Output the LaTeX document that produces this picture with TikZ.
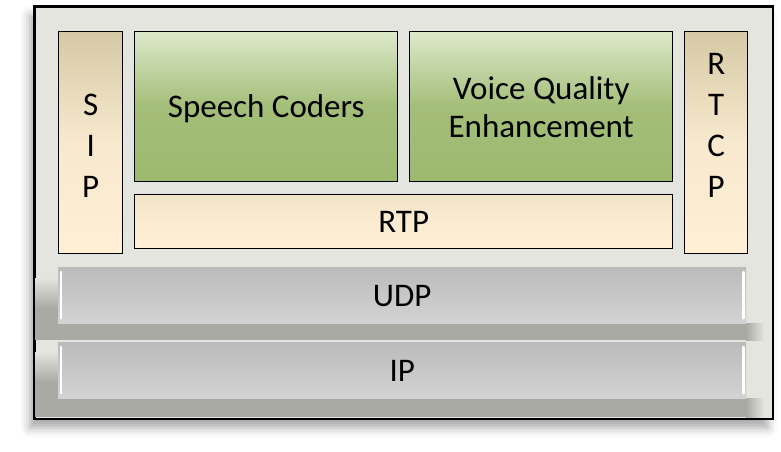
\documentclass[tikz,border=0pt]{standalone}
\usepackage{fontspec}
\setmainfont{Carlito}
\usetikzlibrary{shadows.blur}
\definecolor{outerfill}{HTML}{E5E5DF}
\definecolor{tantop}{HTML}{D5C9A5}
\definecolor{tanbot}{HTML}{FEEFD5}
\definecolor{greentop}{HTML}{DDE9CB}
\definecolor{greenbot}{HTML}{9DB96F}
\definecolor{graytop}{HTML}{BBBBBB}
\definecolor{graybot}{HTML}{D3D3D3}
\definecolor{shadowgray}{HTML}{AAAAA4}
\tikzset{
  bigfont/.style={font=\fontsize{33}{41}\selectfont},
  layer/.style={draw=black, line width=1.4pt, inner sep=0pt, anchor=north west,
    bigfont, align=center},
  tanbox/.style={layer, top color=tantop, bottom color=tanbot, middle color=tanbot!85!tantop},
  greenbox/.style={layer, top color=greentop, bottom color=greenbot, middle color=greenbot!90!greentop},
  graybar/.style={draw=none, inner sep=0pt, anchor=north west, top color=graytop, bottom color=graybot,
    bigfont},
  bevel/.style={white, line width=2.2pt, line cap=round},
  labeltext/.style={inner sep=0pt, bigfont, align=center},
}
\begin{document}
\begin{tikzpicture}[x=1pt, y=-1pt]
\useasboundingbox (0,0) rectangle (781,451);
% outer frame
\node[draw=black, line width=1.6pt, fill=outerfill, anchor=north west, inner sep=0pt,
  minimum width=738pt, minimum height=412pt,
  blur shadow={shadow xshift=-5pt, shadow yshift=-9pt, shadow blur radius=9pt, shadow opacity=35}]
  (frame) at (34,6) {};
% shadows under gray bars (UDP)
\fill[shadowgray] (58,300) rectangle (746,340);
\shade[top color=outerfill, bottom color=shadowgray] (35,278) rectangle (58,308);
\fill[shadowgray] (35,308) rectangle (58,340);
\shade[left color=shadowgray, right color=outerfill] (746,323) rectangle (764,340);
% shadows under gray bars (IP)
\fill[shadowgray] (58,375) rectangle (746,417);
\shade[top color=outerfill, bottom color=shadowgray] (35,352) rectangle (58,382);
\fill[shadowgray] (35,382) rectangle (58,417);
\shade[left color=shadowgray, right color=outerfill] (746,398) rectangle (764,417);
% redraw frame border over shadows
\draw[black, line width=1.6pt] (frame.north west) rectangle (frame.south east);
% left/right vertical tan boxes
\node[tanbox, minimum width=64pt, minimum height=222pt] (sip) at (58,31) {};
\node[labeltext] (siptext) at ([yshift=-3pt]sip.center) {S\\I\\P};
\node[tanbox, minimum width=63pt, minimum height=222pt] (rtcp) at (684,31) {};
\node[labeltext] (rtcptext) at ([yshift=17pt]rtcp.center) {R\\T\\C\\P};
% green boxes
\node[greenbox, minimum width=263pt, minimum height=150pt] (sc) at (134,31) {};
\node[labeltext] (sctext) at ([yshift=-2pt]sc.center) {Speech Coders};
\node[greenbox, minimum width=263pt, minimum height=150pt, font=\fontsize{33}{38}\selectfont] (vqe) at (409,31) {Voice Quality\\Enhancement};
% RTP
\node[tanbox, minimum width=538pt, minimum height=54pt, top color=tanbot!70!tantop, middle color=tanbot!92!tantop] (rtp) at (134,194) {RTP};
% gray bars
\node[graybar, minimum width=688pt, minimum height=56pt] (udp) at (58,267) {};
\node[labeltext] (udptext) at ([yshift=-1pt]udp.center) {UDP};
\node[graybar, minimum width=688pt, minimum height=56pt] (ip) at (58,342) {};
\node[labeltext] (iptext) at ([yshift=-1pt]ip.center) {IP};
% bevel highlights
\draw[bevel] ([xshift=3pt,yshift=-5pt]udp.north west) -- ([xshift=3pt,yshift=5pt]udp.south west);
\draw[bevel] ([xshift=-3pt,yshift=-5pt]udp.north east) -- ([xshift=-3pt,yshift=5pt]udp.south east);
\draw[bevel] ([xshift=3pt,yshift=-5pt]ip.north west) -- ([xshift=3pt,yshift=5pt]ip.south west);
\draw[bevel] ([xshift=-3pt,yshift=-5pt]ip.north east) -- ([xshift=-3pt,yshift=5pt]ip.south east);
\end{tikzpicture}
\end{document}
